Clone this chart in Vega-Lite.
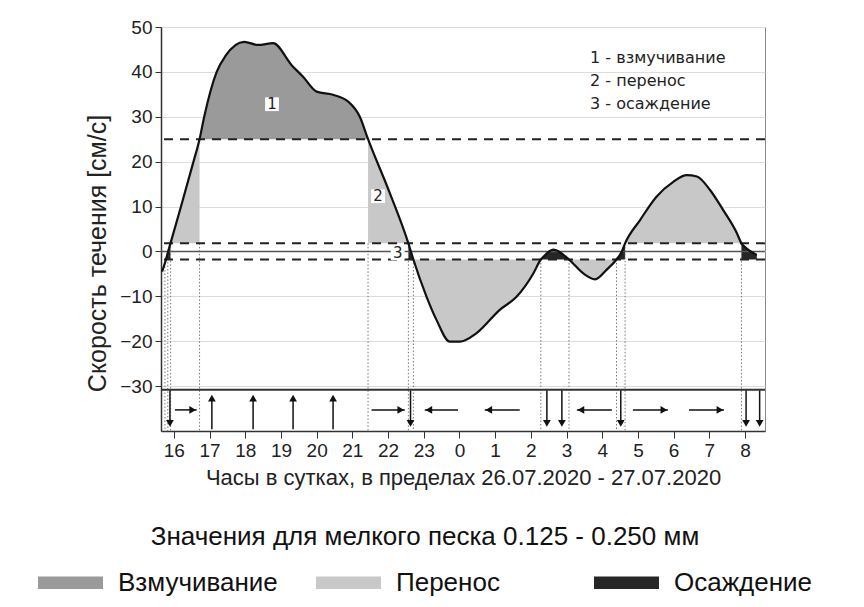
{
  "$schema": "https://vega.github.io/schema/vega-lite/v6.json",
  "width": 604,
  "height": 404,
  "autosize": {"type": "none"},
  "padding": {"left": 161, "top": 27, "right": 99, "bottom": 176},
  "background": "white",
  "config": {
    "view": {"stroke": "#8a8a8a", "strokeWidth": 1},
    "font": "Liberation Sans",
    "axis": {"labelFont": "Liberation Sans", "titleFont": "Liberation Sans", "labelColor": "#222", "titleColor": "#222", "domainColor": "#333", "tickColor": "#333", "gridColor": "#dcdcdc", "labelOverlap": false, "labelSeparation": 0},
    "axisX": {"labelOverlap": false, "labelFlush": false}
  },
  "datasets": {
    "curve": [
      {"h": 15.67, "v": -4.5}, {"h": 15.78, "v": -1.8}, {"h": 15.84, "v": 0}, {"h": 15.905, "v": 1.8},
      {"h": 16.2, "v": 10}, {"h": 16.55, "v": 20}, {"h": 16.72, "v": 25}, {"h": 16.85, "v": 30},
      {"h": 17.2, "v": 40}, {"h": 17.45, "v": 43.6}, {"h": 17.97, "v": 46.7}, {"h": 18.36, "v": 46.0},
      {"h": 18.78, "v": 46.4}, {"h": 19.3, "v": 41.5}, {"h": 19.62, "v": 38.9}, {"h": 20.0, "v": 35.6},
      {"h": 20.46, "v": 34.9}, {"h": 20.88, "v": 33.4}, {"h": 21.21, "v": 30.0}, {"h": 21.44, "v": 25},
      {"h": 22.05, "v": 13.0}, {"h": 22.57, "v": 1.8}, {"h": 22.64, "v": 0}, {"h": 22.71, "v": -1.8},
      {"h": 23.08, "v": -10.1}, {"h": 23.36, "v": -15.3}, {"h": 23.73, "v": -20.1}, {"h": 24.01, "v": -20.1},
      {"h": 24.48, "v": -18.2}, {"h": 25.13, "v": -13.0}, {"h": 25.6, "v": -10.1}, {"h": 26.07, "v": -4.9},
      {"h": 26.28, "v": -1.8}, {"h": 26.35, "v": -1.2}, {"h": 26.63, "v": 0.4}, {"h": 27.07, "v": -1.8},
      {"h": 27.47, "v": -4.9}, {"h": 27.8, "v": -6.2}, {"h": 28.12, "v": -4.1}, {"h": 28.4, "v": -1.8},
      {"h": 28.55, "v": 0}, {"h": 28.64, "v": 1.8}, {"h": 29.06, "v": 7.0}, {"h": 29.52, "v": 12.2},
      {"h": 29.99, "v": 15.5}, {"h": 30.37, "v": 17.0}, {"h": 30.65, "v": 16.7}, {"h": 31.02, "v": 13.7},
      {"h": 31.39, "v": 9.2}, {"h": 31.77, "v": 4.1}, {"h": 31.9, "v": 1.8}, {"h": 32.04, "v": 0.7},
      {"h": 32.33, "v": -0.8}
    ],
    "areas": [
      {"cat": "Взмучивание", "reg": "E1", "h": 16.72, "v": 25, "b": 25},
      {"cat": "Взмучивание", "reg": "E1", "h": 16.85, "v": 30, "b": 25},
      {"cat": "Взмучивание", "reg": "E1", "h": 17.2, "v": 40, "b": 25},
      {"cat": "Взмучивание", "reg": "E1", "h": 17.45, "v": 43.6, "b": 25},
      {"cat": "Взмучивание", "reg": "E1", "h": 17.97, "v": 46.7, "b": 25},
      {"cat": "Взмучивание", "reg": "E1", "h": 18.36, "v": 46.0, "b": 25},
      {"cat": "Взмучивание", "reg": "E1", "h": 18.78, "v": 46.4, "b": 25},
      {"cat": "Взмучивание", "reg": "E1", "h": 19.3, "v": 41.5, "b": 25},
      {"cat": "Взмучивание", "reg": "E1", "h": 19.62, "v": 38.9, "b": 25},
      {"cat": "Взмучивание", "reg": "E1", "h": 20.0, "v": 35.6, "b": 25},
      {"cat": "Взмучивание", "reg": "E1", "h": 20.46, "v": 34.9, "b": 25},
      {"cat": "Взмучивание", "reg": "E1", "h": 20.88, "v": 33.4, "b": 25},
      {"cat": "Взмучивание", "reg": "E1", "h": 21.21, "v": 30.0, "b": 25},
      {"cat": "Взмучивание", "reg": "E1", "h": 21.44, "v": 25, "b": 25},
      {"cat": "Перенос", "reg": "T1", "h": 15.905, "v": 1.8, "b": 1.8},
      {"cat": "Перенос", "reg": "T1", "h": 16.2, "v": 10, "b": 1.8},
      {"cat": "Перенос", "reg": "T1", "h": 16.55, "v": 20, "b": 1.8},
      {"cat": "Перенос", "reg": "T1", "h": 16.72, "v": 25, "b": 1.8},
      {"cat": "Перенос", "reg": "T2", "h": 21.44, "v": 25, "b": 1.8},
      {"cat": "Перенос", "reg": "T2", "h": 22.05, "v": 13.0, "b": 1.8},
      {"cat": "Перенос", "reg": "T2", "h": 22.57, "v": 1.8, "b": 1.8},
      {"cat": "Перенос", "reg": "T3", "h": 22.71, "v": -1.8, "b": -1.8},
      {"cat": "Перенос", "reg": "T3", "h": 23.08, "v": -10.1, "b": -1.8},
      {"cat": "Перенос", "reg": "T3", "h": 23.36, "v": -15.3, "b": -1.8},
      {"cat": "Перенос", "reg": "T3", "h": 23.73, "v": -20.1, "b": -1.8},
      {"cat": "Перенос", "reg": "T3", "h": 24.01, "v": -20.1, "b": -1.8},
      {"cat": "Перенос", "reg": "T3", "h": 24.48, "v": -18.2, "b": -1.8},
      {"cat": "Перенос", "reg": "T3", "h": 25.13, "v": -13.0, "b": -1.8},
      {"cat": "Перенос", "reg": "T3", "h": 25.6, "v": -10.1, "b": -1.8},
      {"cat": "Перенос", "reg": "T3", "h": 26.07, "v": -4.9, "b": -1.8},
      {"cat": "Перенос", "reg": "T3", "h": 26.28, "v": -1.8, "b": -1.8},
      {"cat": "Перенос", "reg": "T4", "h": 27.07, "v": -1.8, "b": -1.8},
      {"cat": "Перенос", "reg": "T4", "h": 27.47, "v": -4.9, "b": -1.8},
      {"cat": "Перенос", "reg": "T4", "h": 27.8, "v": -6.2, "b": -1.8},
      {"cat": "Перенос", "reg": "T4", "h": 28.12, "v": -4.1, "b": -1.8},
      {"cat": "Перенос", "reg": "T4", "h": 28.4, "v": -1.8, "b": -1.8},
      {"cat": "Перенос", "reg": "T5", "h": 28.64, "v": 1.8, "b": 1.8},
      {"cat": "Перенос", "reg": "T5", "h": 29.06, "v": 7.0, "b": 1.8},
      {"cat": "Перенос", "reg": "T5", "h": 29.52, "v": 12.2, "b": 1.8},
      {"cat": "Перенос", "reg": "T5", "h": 29.99, "v": 15.5, "b": 1.8},
      {"cat": "Перенос", "reg": "T5", "h": 30.37, "v": 17.0, "b": 1.8},
      {"cat": "Перенос", "reg": "T5", "h": 30.65, "v": 16.7, "b": 1.8},
      {"cat": "Перенос", "reg": "T5", "h": 31.02, "v": 13.7, "b": 1.8},
      {"cat": "Перенос", "reg": "T5", "h": 31.39, "v": 9.2, "b": 1.8},
      {"cat": "Перенос", "reg": "T5", "h": 31.77, "v": 4.1, "b": 1.8},
      {"cat": "Перенос", "reg": "T5", "h": 31.9, "v": 1.8, "b": 1.8},
      {"cat": "Осаждение", "reg": "D1", "h": 15.78, "v": -1.8, "b": -1.8},
      {"cat": "Осаждение", "reg": "D1", "h": 15.84, "v": 0, "b": -1.8},
      {"cat": "Осаждение", "reg": "D1", "h": 15.905, "v": 1.8, "b": -1.8},
      {"cat": "Осаждение", "reg": "D2", "h": 22.57, "v": 1.8, "b": -1.8},
      {"cat": "Осаждение", "reg": "D2", "h": 22.64, "v": 0, "b": -1.8},
      {"cat": "Осаждение", "reg": "D2", "h": 22.71, "v": -1.8, "b": -1.8},
      {"cat": "Осаждение", "reg": "D3", "h": 26.28, "v": -1.8, "b": -1.8},
      {"cat": "Осаждение", "reg": "D3", "h": 26.35, "v": -1.2, "b": -1.8},
      {"cat": "Осаждение", "reg": "D3", "h": 26.63, "v": 0.4, "b": -1.8},
      {"cat": "Осаждение", "reg": "D3", "h": 27.07, "v": -1.8, "b": -1.8},
      {"cat": "Осаждение", "reg": "D4", "h": 28.4, "v": -1.8, "b": -1.8},
      {"cat": "Осаждение", "reg": "D4", "h": 28.55, "v": 0, "b": -1.8},
      {"cat": "Осаждение", "reg": "D4", "h": 28.64, "v": 1.8, "b": -1.8},
      {"cat": "Осаждение", "reg": "D5", "h": 31.9, "v": 1.8, "b": -1.8},
      {"cat": "Осаждение", "reg": "D5", "h": 32.04, "v": 0.7, "b": -1.8},
      {"cat": "Осаждение", "reg": "D5", "h": 32.33, "v": -0.8, "b": -1.8}
    ],
    "drops": [
      {"h": 15.75, "y0": -1.8}, {"h": 15.83, "y0": 0}, {"h": 15.91, "y0": 1.8}, {"h": 16.72, "y0": 1.8},
      {"h": 21.44, "y0": 1.8}, {"h": 22.57, "y0": 1.8}, {"h": 22.71, "y0": -1.8}, {"h": 26.28, "y0": -1.8},
      {"h": 27.07, "y0": -1.8}, {"h": 28.4, "y0": -1.8}, {"h": 28.64, "y0": 1.8}, {"h": 31.9, "y0": 1.8}
    ],
    "thresholds": [{"y": 25}, {"y": 1.8}, {"y": -1.8}],
    "arrows": [
      {"dir": "down", "h": 15.89}, {"dir": "down", "h": 22.63}, {"dir": "down", "h": 26.45}, {"dir": "down", "h": 26.87},
      {"dir": "down", "h": 28.52}, {"dir": "down", "h": 32.03}, {"dir": "down", "h": 32.41},
      {"dir": "up", "h": 17.065}, {"dir": "up", "h": 18.22}, {"dir": "up", "h": 19.34}, {"dir": "up", "h": 20.46},
      {"dir": "right", "from": 16.03, "to": 16.64}, {"dir": "right", "from": 21.54, "to": 22.47},
      {"dir": "right", "from": 28.86, "to": 29.84}, {"dir": "right", "from": 30.43, "to": 31.41},
      {"dir": "left", "from": 23.96, "to": 23.03}, {"dir": "left", "from": 25.69, "to": 24.71},
      {"dir": "left", "from": 28.27, "to": 27.29}
    ],
    "marks": [
      {"lab": "1", "h": 18.75, "v": 32.8}, {"lab": "2", "h": 21.72, "v": 12.3}, {"lab": "3", "h": 22.27, "v": -0.4}
    ],
    "notes": [
      {"t": "1 - взмучивание", "h": 27.66, "v": 43.1},
      {"t": "2 - перенос", "h": 27.66, "v": 38.0},
      {"t": "3 - осаждение", "h": 27.66, "v": 32.9}
    ]
  },
  "layer": [
    {
      "data": {"name": "areas"},
      "mark": {"type": "area", "interpolate": "monotone", "opacity": 1},
      "encoding": {
        "x": {"field": "h", "type": "quantitative",
          "scale": {"domain": [15.64, 32.56], "nice": false, "zero": false},
          "axis": {"tickCount": 17, "tickMinStep": 1,
            "labelExpr": "datum.value >= 24 ? format(datum.value - 24, 'd') : format(datum.value, 'd')",
            "labelOverlap": false, "labelFlush": false,
            "title": "Часы в сутках, в пределах 26.07.2020 - 27.07.2020",
            "grid": false, "tickSize": 7, "labelFontSize": 19, "labelPadding": 3,
            "titleFontSize": 22, "titleFontWeight": "normal", "titleY": 46, "titleBaseline": "middle",
            "domainWidth": 1.5}},
        "y": {"field": "v", "type": "quantitative",
          "scale": {"domain": [-40, 50], "nice": false, "zero": false},
          "axis": {"values": [-30, -20, -10, 0, 10, 20, 30, 40, 50],
            "title": "Скорость течения [см/с]", "titleFontSize": 25, "titleFontWeight": "normal",
            "titleX": -64, "titleY": 226, "titleAngle": -90, "titleAlign": "center", "titleBaseline": "middle",
            "labelFontSize": 19, "tickSize": 6, "labelPadding": 3, "grid": true, "domainWidth": 1.5, "labelOverlap": false}},
        "y2": {"field": "b"},
        "detail": {"field": "reg"},
        "fill": {"field": "cat", "type": "nominal",
          "scale": {"domain": ["Взмучивание", "Перенос", "Осаждение"], "range": ["#9a9a9a", "#c8c8c8", "#262626"]},
          "legend": {"orient": "none", "legendX": -123, "legendY": 497, "direction": "horizontal",
            "title": "Значения для мелкого песка 0.125 - 0.250 мм", "titleAnchor": "middle",
            "titleFont": "Liberation Sans", "titleFontSize": 26, "titleFontWeight": "normal",
            "titleColor": "#111", "titleLimit": 900, "titlePadding": 0,
            "labelFont": "Liberation Sans", "labelFontSize": 26, "labelColor": "#111", "labelLimit": 400,
            "labelOffset": 15, "symbolType": "M-1,-0.19H1V0.19H-1Z", "symbolSize": 4225, "symbolStrokeWidth": 0,
            "symbolOpacity": 1, "columnPadding": 38, "gridAlign": "all"}}
      }
    },
    {
      "data": {"name": "drops"},
      "mark": {"type": "rule", "strokeDash": [1.5, 2], "color": "#777", "strokeWidth": 1},
      "encoding": {
        "x": {"field": "h", "type": "quantitative"},
        "y": {"field": "y0", "type": "quantitative"},
        "y2": {"datum": -40}
      }
    },
    {
      "data": {"name": "thresholds"},
      "mark": {"type": "rule", "strokeDash": [9, 7], "color": "#222", "strokeWidth": 2},
      "encoding": {"y": {"field": "y", "type": "quantitative"}}
    },
    {
      "data": {"values": [{"y": 0}]},
      "mark": {"type": "rule", "color": "#555", "strokeWidth": 1.5},
      "encoding": {"y": {"field": "y", "type": "quantitative"}}
    },
    {
      "data": {"values": [{"y": -30.8}]},
      "mark": {"type": "rule", "color": "#333", "strokeWidth": 2},
      "encoding": {"y": {"field": "y", "type": "quantitative"}}
    },
    {
      "data": {"name": "curve"},
      "mark": {"type": "line", "interpolate": "monotone", "color": "#111", "strokeWidth": 2.2},
      "encoding": {
        "x": {"field": "h", "type": "quantitative"},
        "y": {"field": "v", "type": "quantitative"}
      }
    },
    {
      "data": {"name": "arrows"},
      "transform": [{"filter": "datum.dir === 'down'"}],
      "mark": {"type": "rule", "color": "#111", "strokeWidth": 1.5},
      "encoding": {
        "x": {"field": "h", "type": "quantitative"},
        "y": {"datum": -31},
        "y2": {"datum": -38.6}
      }
    },
    {
      "data": {"name": "arrows"},
      "transform": [{"filter": "datum.dir === 'down'"}],
      "mark": {"type": "point", "shape": "triangle-down", "filled": true, "color": "#111", "size": 60, "opacity": 1, "yOffset": -4},
      "encoding": {
        "x": {"field": "h", "type": "quantitative"},
        "y": {"datum": -39.2}
      }
    },
    {
      "data": {"name": "arrows"},
      "transform": [{"filter": "datum.dir === 'up'"}],
      "mark": {"type": "rule", "color": "#111", "strokeWidth": 1.5},
      "encoding": {
        "x": {"field": "h", "type": "quantitative"},
        "y": {"datum": -39.6},
        "y2": {"datum": -32.4}
      }
    },
    {
      "data": {"name": "arrows"},
      "transform": [{"filter": "datum.dir === 'up'"}],
      "mark": {"type": "point", "shape": "triangle-up", "filled": true, "color": "#111", "size": 60, "opacity": 1, "yOffset": 4},
      "encoding": {
        "x": {"field": "h", "type": "quantitative"},
        "y": {"datum": -31.8}
      }
    },
    {
      "data": {"name": "arrows"},
      "transform": [{"filter": "datum.dir === 'left' || datum.dir === 'right'"}],
      "mark": {"type": "rule", "color": "#111", "strokeWidth": 1.5},
      "encoding": {
        "x": {"field": "from", "type": "quantitative"},
        "x2": {"field": "to"},
        "y": {"datum": -35.3}
      }
    },
    {
      "data": {"name": "arrows"},
      "transform": [{"filter": "datum.dir === 'right'"}],
      "mark": {"type": "point", "shape": "triangle-right", "filled": true, "color": "#111", "size": 60, "opacity": 1, "xOffset": -4},
      "encoding": {
        "x": {"field": "to", "type": "quantitative"},
        "y": {"datum": -35.3}
      }
    },
    {
      "data": {"name": "arrows"},
      "transform": [{"filter": "datum.dir === 'left'"}],
      "mark": {"type": "point", "shape": "triangle-left", "filled": true, "color": "#111", "size": 60, "opacity": 1, "xOffset": 4},
      "encoding": {
        "x": {"field": "to", "type": "quantitative"},
        "y": {"datum": -35.3}
      }
    },
    {
      "data": {"name": "marks"},
      "mark": {"type": "point", "shape": "square", "filled": true, "color": "white", "size": 190, "opacity": 1},
      "encoding": {
        "x": {"field": "h", "type": "quantitative"},
        "y": {"field": "v", "type": "quantitative"}
      }
    },
    {
      "data": {"name": "marks"},
      "mark": {"type": "text", "font": "DejaVu Sans", "fontSize": 15, "color": "#222", "baseline": "middle", "align": "center"},
      "encoding": {
        "x": {"field": "h", "type": "quantitative"},
        "y": {"field": "v", "type": "quantitative"},
        "text": {"field": "lab"}
      }
    },
    {
      "data": {"name": "notes"},
      "mark": {"type": "text", "font": "DejaVu Sans", "fontSize": 16, "color": "#222", "baseline": "middle", "align": "left"},
      "encoding": {
        "x": {"field": "h", "type": "quantitative"},
        "y": {"field": "v", "type": "quantitative"},
        "text": {"field": "t"}
      }
    }
  ]
}
